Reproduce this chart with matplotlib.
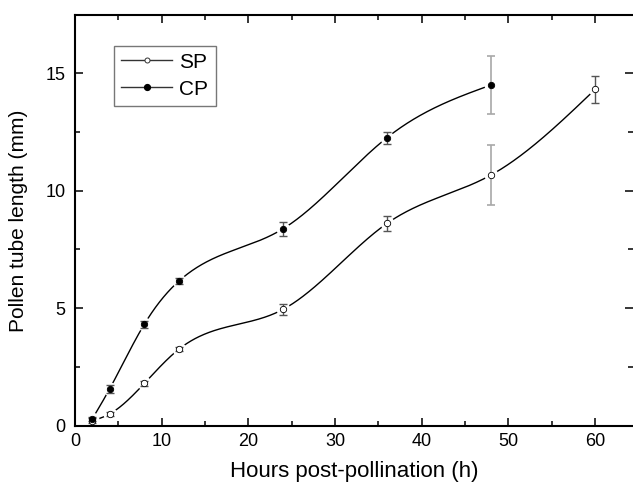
import numpy as np
import matplotlib
matplotlib.use("Agg")
import matplotlib.pyplot as plt
from matplotlib.lines import Line2D
from matplotlib.ticker import MultipleLocator

plt.rcParams['font.family'] = ['Liberation Sans', 'DejaVu Sans']

# ---- data ----
hours_sp = [2, 4, 8, 12, 24, 36, 48, 60]
sp_mean = [0.21, 0.50, 1.80, 3.26, 4.95, 8.61, 10.67, 14.31]
sp_err = [0.10, 0.07, 0.12, 0.10, 0.22, 0.33, 1.26, 0.58]

hours_cp = [2, 4, 8, 12, 24, 36, 48]
cp_mean = [0.29, 1.57, 4.32, 6.16, 8.38, 12.26, 14.50]
cp_err = [0.10, 0.17, 0.15, 0.14, 0.30, 0.26, 1.22]

labels = ["SP", "CP"]
x_label = "Hours post-pollination (h)"
y_label = "Pollen tube length (mm)"


def natural_spline(x, y, n=500):
    x = np.asarray(x, float)
    y = np.asarray(y, float)
    k = len(x)
    h = np.diff(x)
    A = np.zeros((k, k))
    b = np.zeros(k)
    A[0, 0] = 1
    A[-1, -1] = 1
    for i in range(1, k - 1):
        A[i, i - 1] = h[i - 1]
        A[i, i] = 2 * (h[i - 1] + h[i])
        A[i, i + 1] = h[i]
        b[i] = 6 * ((y[i + 1] - y[i]) / h[i] - (y[i] - y[i - 1]) / h[i - 1])
    M = np.linalg.solve(A, b)
    xs = np.linspace(x[0], x[-1], n)
    idx = np.clip(np.searchsorted(x, xs) - 1, 0, k - 2)
    x0, x1 = x[idx], x[idx + 1]
    hh = x1 - x0
    t0 = x1 - xs
    t1 = xs - x0
    ys = (M[idx] * t0 ** 3 / (6 * hh) + M[idx + 1] * t1 ** 3 / (6 * hh)
          + (y[idx] / hh - M[idx] * hh / 6) * t0
          + (y[idx + 1] / hh - M[idx + 1] * hh / 6) * t1)
    return xs, ys


fig = plt.figure(figsize=(6.33, 4.88), dpi=100)
ax = fig.add_axes([75 / 633, 62.3 / 488, 558 / 633, 410.7 / 488])

series = [
    (hours_sp, sp_mean, sp_err, 'white', 'o'),
    (hours_cp, cp_mean, cp_err, 'black', 'o'),
]

for xs_, ys_, es_, face, mk in series:
    sx, sy = natural_spline(xs_, ys_)
    ax.plot(sx, sy, color='black', lw=1.0, zorder=2)
    # white halo to create the gap around markers
    ax.plot(xs_, ys_, ls='none', marker='o', ms=10, mfc='white', mec='none', zorder=2.5)
    xa = np.asarray(xs_)
    ya = np.asarray(ys_)
    ea = np.asarray(es_)
    big = xa == 48
    ax.errorbar(xa[~big], ya[~big], yerr=ea[~big], fmt='none', ecolor='#555555',
                elinewidth=1.0, capsize=3.2, capthick=1.0, zorder=3)
    eb = ax.errorbar(xa[big], ya[big], yerr=ea[big], fmt='none', ecolor='#a8a8a8',
                     elinewidth=1.2, capsize=3.2, capthick=1.2, zorder=3)
    for cap in eb[1]:
        cap.set_color('#707070')
    ax.plot(xs_, ys_, ls='none', marker=mk, ms=4.6, mfc=face, mec='black',
            mew=0.6, zorder=4)

ax.set_xlim(0, 64.38)
ax.set_ylim(0, 17.48)
ax.xaxis.set_major_locator(MultipleLocator(10))
ax.xaxis.set_minor_locator(MultipleLocator(5))
ax.yaxis.set_major_locator(MultipleLocator(5))
ax.yaxis.set_minor_locator(MultipleLocator(2.5))

for s in ['left', 'bottom', 'top']:
    ax.spines[s].set_linewidth(1.5)
ax.spines['right'].set_visible(False)

ax.tick_params(which='both', direction='in', top=True, right=True, width=1.1, color='black')
ax.tick_params(which='major', length=5.5)
ax.tick_params(which='minor', length=3.5)
ax.tick_params(axis='x', which='major', labelsize=13, pad=5.5)
ax.tick_params(axis='y', which='major', labelsize=13, pad=7)

ax.set_xlabel(x_label, fontsize=16, labelpad=8)
ax.set_ylabel(y_label, fontsize=15, labelpad=12)

handles = [
    Line2D([], [], color='#333333', lw=1.0, marker='o', ms=3.6, mfc='white', mec='#333333', mew=0.7),
    Line2D([], [], color='#333333', lw=1.0, marker='o', ms=4.2, mfc='black', mec='black'),
]
leg = ax.legend(handles, labels, loc='upper left', bbox_to_anchor=(39 / 558, (425.7 - 45.7) / 410.7),
                borderaxespad=0, fontsize=15, frameon=True, fancybox=False,
                edgecolor='#555555', handlelength=2.45, handletextpad=0.35,
                labelspacing=0.38, borderpad=0.34)
leg.get_frame().set_linewidth(1.0)

fig.savefig("out.png", dpi=100)
